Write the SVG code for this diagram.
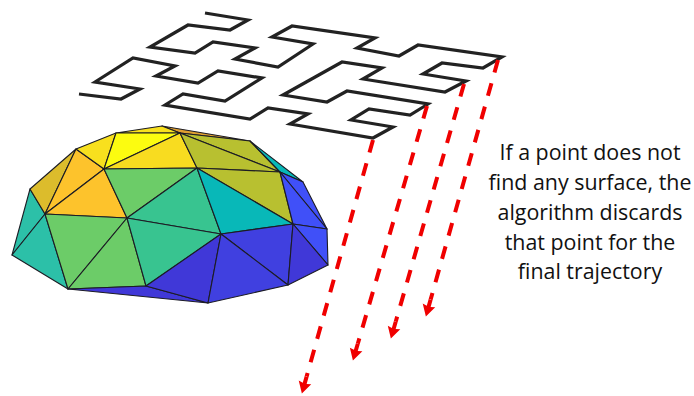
<svg xmlns="http://www.w3.org/2000/svg" width="694" height="396" viewBox="0 0 694 396">
<defs>
<marker id="head" markerUnits="userSpaceOnUse" markerWidth="20" markerHeight="16" refX="0" refY="8" orient="auto"><path d="M0,6 L7,6 L6,1.5 L17.5,8 L6,14.5 L7,10 L0,10 Z" fill="#f00000"/></marker>
</defs>
<style>
.t{stroke:#1c1c24;stroke-width:1.1;stroke-linejoin:round}
.a{fill:none;stroke:#f00000;stroke-width:4;stroke-dasharray:13 11.2}
.l{font:21.4px "Open Sans",sans-serif;fill:#111;text-anchor:middle}
</style>
<rect width="694" height="396" fill="#fff"/>
<g id="surface">
<polygon class="t" fill="#e0a030" points="162,126 250,141 180,133"/>
<polygon class="t" fill="#f8e01e" points="116,133 162,126 180,133"/>
<polygon class="t" fill="#2cc0a8" points="30,189 45,214 12,255"/>
<polygon class="t" fill="#2cc0a8" points="12,255 45,214 68,289"/>
<polygon class="t" fill="#dcbc2c" points="30,189 76,149 45,214"/>
<polygon class="t" fill="#fdc32c" points="76,149 104,169 45,214"/>
<polygon class="t" fill="#fdc32c" points="45,214 104,169 127,218"/>
<polygon class="t" fill="#f8e01e" points="76,149 116,133 104,169"/>
<polygon class="t" fill="#fcfc10" points="116,133 180,133 104,169"/>
<polygon class="t" fill="#f8dc20" points="104,169 180,133 197,168"/>
<polygon class="t" fill="#6ccc68" points="104,169 197,168 127,218"/>
<polygon class="t" fill="#6ccc68" points="45,214 127,218 68,289"/>
<polygon class="t" fill="#6ccc68" points="127,218 146,286 68,289"/>
<polygon class="t" fill="#38c490" points="127,218 197,168 221,234"/>
<polygon class="t" fill="#38c490" points="127,218 221,234 146,286"/>
<polygon class="t" fill="#4038d8" points="68,289 146,286 208,303"/>
<polygon class="t" fill="#4038d8" points="146,286 221,234 208,303"/>
<polygon class="t" fill="#b8c030" points="180,133 250,141 280,172"/>
<polygon class="t" fill="#b8c030" points="180,133 280,172 197,168"/>
<polygon class="t" fill="#b8c030" points="197,168 280,172 293,224"/>
<polygon class="t" fill="#08b8b8" points="197,168 293,224 221,234"/>
<polygon class="t" fill="#08b8b8" points="250,141 303,182 280,172"/>
<polygon class="t" fill="#4040e0" points="221,234 293,224 288,285"/>
<polygon class="t" fill="#4040e0" points="221,234 288,285 208,303"/>
<polygon class="t" fill="#4050f8" points="280,172 303,182 327,229"/>
<polygon class="t" fill="#4050f8" points="280,172 327,229 293,224"/>
<polygon class="t" fill="#4050f8" points="293,224 327,229 328,265"/>
<polygon class="t" fill="#4038d8" points="293,224 328,265 288,285"/>
</g>
<g id="trajectory">
<polyline fill="none" stroke="#222" stroke-width="3.2" stroke-linejoin="miter" points="205,13 248,20 230,30 188,25 150,47 195,53 213,42 255,48 235,59 278,67 313,44 272,37 292,26 375,38 357,48 399,56 418,45 502,57 483,68 442,63 423,74 466,81 445,92 363,79 382,68 342,62 283,95 327,102 347,91 428,104 410,115 369,109 351,120 393,127 373,138 290,124 308,114 268,108 250,119 165,105 183,94 225,101 262,78 218,71 198,83 156,76 175,66 133,58 95,82 140,89 121,99 79,94"/>
</g>
<g id="connectors">
<path class="a" marker-end="url(#head)" d="M373,140 L306.6,376.6"/>
<path class="a" marker-end="url(#head)" d="M427,106 L357.8,343.7"/>
<path class="a" marker-end="url(#head)" d="M464,84 L395.7,321.7"/>
<path class="a" marker-end="url(#head)" d="M498,60 L430.6,299.6"/>
</g>
<g id="label">
<text class="l" x="590" y="160">If a point does not</text>
<text class="l" x="590" y="190">find any surface, the</text>
<text class="l" x="590" y="220">algorithm discards</text>
<text class="l" x="590" y="250">that point for the</text>
<text class="l" x="590" y="279">final trajectory</text>
</g>
</svg>
